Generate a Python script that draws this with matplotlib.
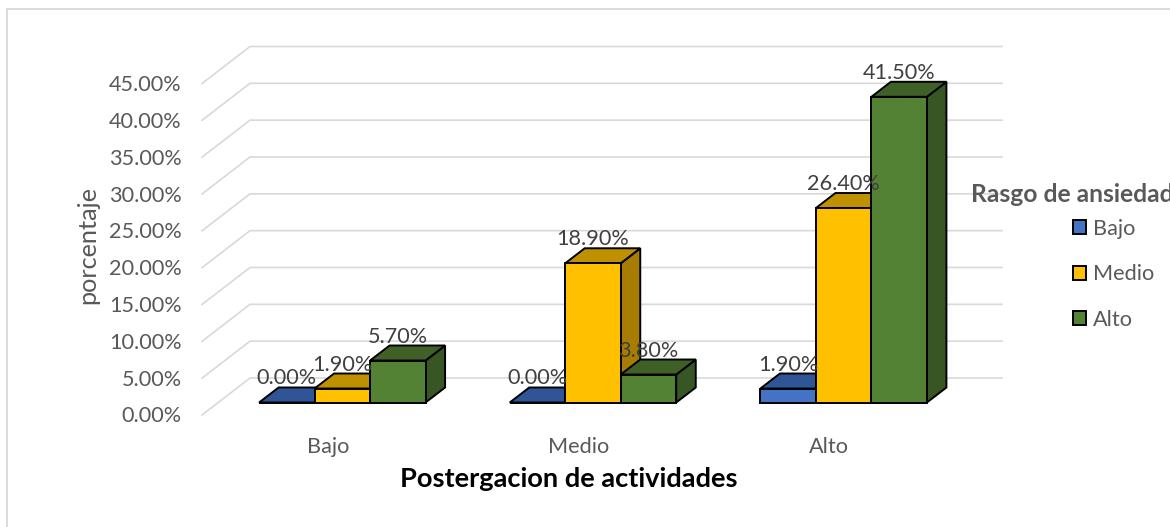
import matplotlib
matplotlib.use("Agg")
import matplotlib.pyplot as plt
from matplotlib.patches import Polygon, Rectangle, Patch
from matplotlib.transforms import ScaledTranslation

plt.rcParams['font.family'] = ['Lato', 'DejaVu Sans']

categories = ["Bajo", "Medio", "Alto"]
series_names = ["Bajo", "Medio", "Alto"]
bajo_values = [0.0, 0.0, 1.9]
medio_values = [1.9, 18.9, 26.4]
alto_values = [5.7, 3.8, 41.5]
value_ticks = [0, 5, 10, 15, 20, 25, 30, 35, 40, 45]
x_title = "Postergacion de actividades"
y_title = "porcentaje"
legend_title = "Rasgo de ansiedad"

W, H = 1170, 527
fig = plt.figure(figsize=(W / 100, H / 100), dpi=100, facecolor='white')
L, B, AW, AH = 217, 527 - 402.5, 752, 331.5
ax = fig.add_axes([L / W, B / H, AW / W, AH / H])
ax.set_xlim(-0.5, 2.5)
ax.set_ylim(0, 45)
ax.patch.set_alpha(0)
for s in ax.spines.values():
    s.set_visible(False)

px = 1 / (AW / 3)   # category units per pixel
py = 45 / AH        # value units per pixel

TXT = '#595959'
GRID = '#D9D9D9'
LAB = '#404040'
FS = 15.6

# chart frame
fig.add_artist(Rectangle((6.5 / W, -0.05), 1.1, 1.05 - 9 / H, transform=fig.transFigure,
                         fill=False, ec=GRID, lw=1.3))

# walls
bx, by = 33 * px, 24.5 * py
fx, fy = -15 * px, -12.5 * py
for v in value_ticks:
    ax.plot([-0.5 + fx, -0.5 + bx, 2.5 + bx], [v + fy, v + by, v + by],
            color=GRID, lw=1.2, clip_on=False, zorder=1, solid_joinstyle='miter')

# bars
bw = 55.5 * px
dx, dy = 19.5 * px, 15 * py
styles = [
    ('#4472C4', '#2F5597', '#2F5597'),
    ('#FFC000', '#BF9000', '#A67D00'),
    ('#548235', '#3F6128', '#375623'),
]
all_values = [bajo_values, medio_values, alto_values]
z = 3
for i, vals in enumerate(all_values):
    front, top, side = styles[i]
    for c, v in enumerate(vals):
        x0 = c + (i - 1.5) * bw
        x1 = x0 + bw
        kw = dict(ec='black', lw=1.4, joinstyle='miter', clip_on=False, zorder=z)
        ax.add_patch(Polygon([(x1, 0), (x1 + dx, dy), (x1 + dx, v + dy), (x1, v)], fc=side, **kw))
        ax.add_patch(Polygon([(x0, v), (x1, v), (x1 + dx, v + dy), (x0 + dx, v + dy)], fc=top, **kw))
        ax.bar(x0 + bw / 2, v, width=bw, color=front, edgecolor='black', linewidth=1.4,
               clip_on=False, zorder=z)
for i, vals in enumerate(all_values):
    for c, v in enumerate(vals):
        x = c + (i - 1) * bw
        ax.text(x, v + 24 * py, f"{v:.2f}%", ha='center', va='center', fontsize=FS,
                color=LAB, zorder=20, clip_on=False)

# axes text
ax.set_yticks(value_ticks)
ax.set_yticklabels([f"{v:.2f}%" for v in value_ticks])
ax.set_xticks(range(3))
ax.set_xticklabels(categories)
ax.tick_params(axis='both', length=0, labelsize=FS, labelcolor=TXT)
ax.tick_params(axis='y', pad=25.5)
ax.tick_params(axis='x', pad=24.5)
oy = ScaledTranslation(0, -12 / 100, fig.dpi_scale_trans)
ox = ScaledTranslation(-14.5 / 100, 0, fig.dpi_scale_trans)
for lab in ax.get_yticklabels():
    lab.set_transform(lab.get_transform() + oy)
for lab in ax.get_xticklabels():
    lab.set_transform(lab.get_transform() + ox)

fig.text(569 / W, 1 - 479 / H, x_title, ha='center', va='center', fontsize=19.6,
         fontweight='bold', color='black')
fig.text(88 / W, 1 - 245 / H, y_title, ha='center', va='center', rotation=90,
         fontsize=18.2, color=TXT)

# legend
handles = [Patch(facecolor=s[0], edgecolor='black', linewidth=1.4) for s in styles]
leg = fig.legend(handles, series_names, loc='upper left', bbox_to_anchor=(1073 / W, 1 - 219 / H),
                 frameon=False, fontsize=FS, labelcolor=TXT, handlelength=0.62, handleheight=0.62,
                 handletextpad=0.32, labelspacing=1.17, borderpad=0, borderaxespad=0)
fig.text(971 / W, 1 - 194 / H, legend_title, ha='left', va='center', fontsize=17.7,
         fontweight='bold', color=TXT)

fig.savefig('out.png', dpi=100)
